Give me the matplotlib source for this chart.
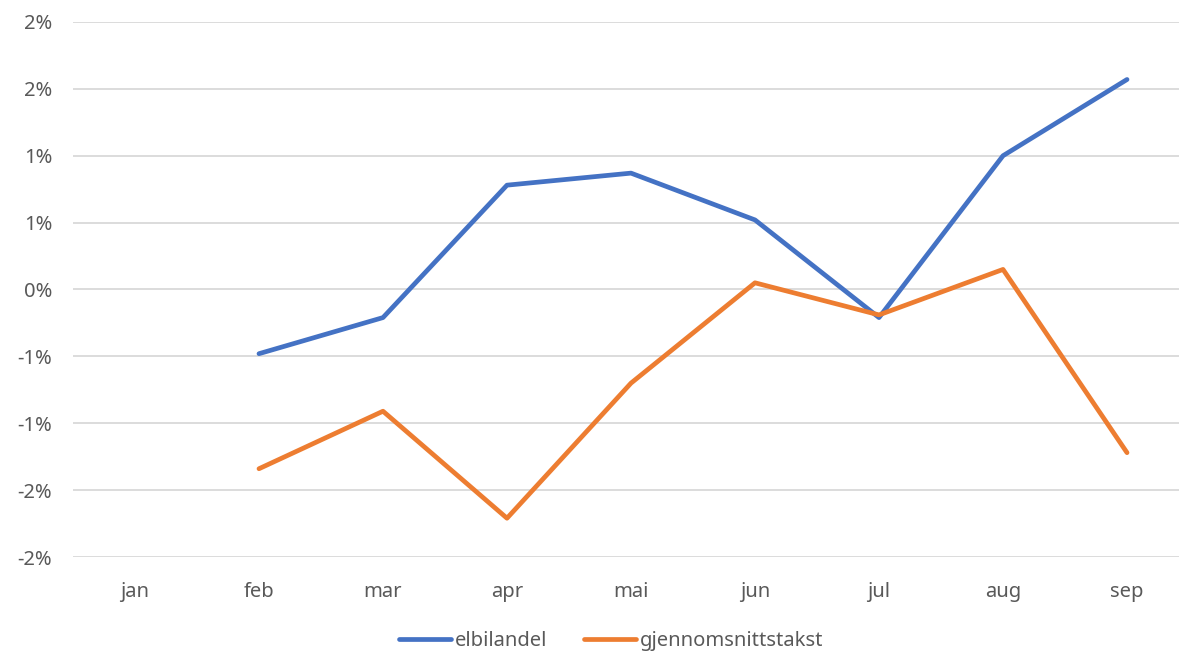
import matplotlib
matplotlib.use('Agg')
from matplotlib import pyplot as plt
import matplotlib.ticker as mtick

months = ['jan', 'feb', 'mar', 'apr', 'mai', 'jun', 'jul', 'aug', 'sep']
# values in percent, jan is missing
elbilandel = [None, -0.48, -0.21, 0.78, 0.87, 0.52, -0.21, 1.00, 1.57]
gjennomsnittstakst = [None, -1.34, -0.91, -1.71, -0.70, 0.05, -0.19, 0.15, -1.22]
y_ticks = [-2.0, -1.5, -1.0, -0.5, 0.0, 0.5, 1.0, 1.5, 2.0]

plt.rcParams['font.family'] = ['Noto Sans', 'DejaVu Sans']

TEXT = '#595959'


def excel_pct(v, pos):
    # excel rounds half away from zero
    r = int(abs(v) + 0.5 + 1e-9)
    if v < 0 and r != 0:
        return '-%d%%' % r
    return '%d%%' % r


fig = plt.figure(figsize=(11.79, 6.54), dpi=100)
ax = fig.add_axes([0.0619, 0.1483, 0.9466, 0.8181])

x = list(range(len(months)))
xs1 = [i for i, v in zip(x, elbilandel) if v is not None]
ys1 = [v for v in elbilandel if v is not None]
xs2 = [i for i, v in zip(x, gjennomsnittstakst) if v is not None]
ys2 = [v for v in gjennomsnittstakst if v is not None]

ax.plot(xs1, ys1, color='#4472C4', linewidth=3.4, solid_capstyle='round',
        solid_joinstyle='round', label='elbilandel', zorder=3)
ax.plot(xs2, ys2, color='#ED7D31', linewidth=3.4, solid_capstyle='round',
        solid_joinstyle='round', label='gjennomsnittstakst', zorder=3)

ax.set_xlim(-0.5, len(months) - 0.5)
ax.set_ylim(-2.0, 2.0)
ax.set_xticks(x)
ax.set_xticklabels(months)
ax.set_yticks(y_ticks)
ax.yaxis.set_major_formatter(mtick.FuncFormatter(excel_pct))

ax.grid(axis='y', color='#D9D9D9', linewidth=1.3)
ax.set_axisbelow(True)
for s in ax.spines.values():
    s.set_visible(False)
ax.tick_params(axis='both', length=0, labelsize=14.5, labelcolor=TEXT)
ax.tick_params(axis='x', pad=18)
ax.tick_params(axis='y', pad=15)

leg = fig.legend(loc='center', bbox_to_anchor=(611 / 1179, 1 - 641 / 654), ncol=2,
                 frameon=False, fontsize=14.5, handlelength=2.6, handletextpad=0.2,
                 columnspacing=1.8)
for t in leg.get_texts():
    t.set_color(TEXT)

plt.savefig('out.png', dpi=100)
